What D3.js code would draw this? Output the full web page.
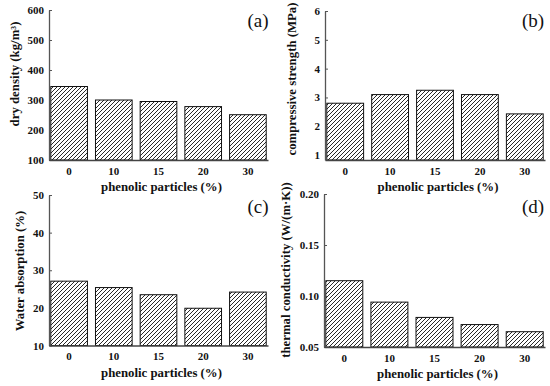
<!DOCTYPE html>
<html>
<head>
<meta charset="utf-8">
<script src="https://cdn.jsdelivr.net/npm/d3@7"></script>
<style>
  html, body { margin: 0; padding: 0; background: #fff; }
  svg { display: block; }
</style>
</head>
<body>
<svg id="chart" width="550" height="386"></svg>
<script>
const categories = ["0", "10", "15", "20", "30"];
const densityValues = [345, 300, 295, 278, 251];
const strengthValues = [2.8, 3.1, 3.25, 3.1, 2.43];
const absorptionValues = [27.1, 25.4, 23.5, 19.9, 24.2];
const conductivityValues = [0.115, 0.094, 0.079, 0.072, 0.065];

const densityTicks = [100, 200, 300, 400, 500, 600];
const strengthTicks = [1, 2, 3, 4, 5, 6];
const absorptionTicks = [10, 20, 30, 40, 50];
const conductivityTicks = [0.05, 0.10, 0.15, 0.20];

const xTitle = "phenolic particles (%)";

const svg = d3.select("#chart");
const FONT = "'Liberation Serif','Times New Roman',serif";

// hatch pattern
const defs = svg.append("defs");
const pat = defs.append("pattern")
  .attr("id", "hatch")
  .attr("patternUnits", "userSpaceOnUse")
  .attr("width", 4).attr("height", 4);
pat.append("path")
  .attr("d", "M-1,1 l2,-2 M0,4 l4,-4 M3,5 l2,-2")
  .attr("stroke", "#111").attr("stroke-width", 0.9);

const panels = [
  { values: densityValues, ticks: densityTicks, domain: [100, 600], fmt: d3.format("d"),
    x0: 49, x1: 268, yTop: 10, yBot: 160,
    yTitle: "dry density (kg/m³)", yTitleX: 15, yTitleY: 74, label: "(a)", labelX: 258, labelY: 27 },
  { values: strengthValues, ticks: strengthTicks, domain: [0.83, 6], fmt: d3.format("d"),
    x0: 325, x1: 545, yTop: 11, yBot: 160,
    yTitle: "compressive strength (MPa)", yTitleX: 292, yTitleY: 79, label: "(b)", labelX: 533, labelY: 27 },
  { values: absorptionValues, ticks: absorptionTicks, domain: [10, 50], fmt: d3.format("d"),
    x0: 49, x1: 268, yTop: 195, yBot: 345.5,
    yTitle: "Water absorption (%)", yTitleX: 20, yTitleY: 271, label: "(c)", labelX: 258, labelY: 213 },
  { values: conductivityValues, ticks: conductivityTicks, domain: [0.05, 0.20], fmt: d3.format(".2f"),
    x0: 324, x1: 545, yTop: 194, yBot: 347,
    yTitle: "thermal conductivity (W/(m·K))", yTitleX: 286, yTitleY: 270, label: "(d)", labelX: 533, labelY: 213 }
];

panels.forEach(p => {
  const g = svg.append("g");
  const x = d3.scaleBand().domain(categories).range([p.x0, p.x1]).paddingInner(0.18).paddingOuter(0.04);
  const y = d3.scaleLinear().domain(p.domain).range([p.yBot, p.yTop]);

  // bars
  g.selectAll("rect.bar").data(p.values).enter().append("rect")
    .attr("class", "bar")
    .attr("x", (d, i) => x(categories[i]))
    .attr("width", x.bandwidth())
    .attr("y", d => y(d))
    .attr("height", d => p.yBot - y(d))
    .attr("fill", "url(#hatch)")
    .attr("stroke", "#111")
    .attr("stroke-width", 1);

  // y axis
  const yAxis = d3.axisLeft(y).tickValues(p.ticks).tickFormat(p.fmt)
    .tickSizeInner(-3).tickSizeOuter(0).tickPadding(5);
  const ya = g.append("g").attr("transform", `translate(${p.x0},0)`).call(yAxis);
  ya.select(".domain").attr("stroke", "#555").attr("stroke-width", 1.3);
  ya.selectAll(".tick line").attr("stroke", "#555");
  ya.selectAll("text").attr("font-family", FONT).attr("font-weight", "bold")
    .attr("font-size", 11).attr("fill", "#111");

  // x axis
  const xAxis = d3.axisBottom(x).tickSize(0).tickPadding(7);
  const xa = g.append("g").attr("transform", `translate(0,${p.yBot})`).call(xAxis);
  xa.select(".domain").attr("stroke", "#444").attr("stroke-width", 1.3);
  xa.selectAll("text").attr("font-family", FONT).attr("font-weight", "bold")
    .attr("font-size", 11).attr("fill", "#111");

  // x title
  g.append("text")
    .attr("x", (p.x0 + p.x1) / 2 + 3)
    .attr("y", p.yBot + 31)
    .attr("text-anchor", "middle")
    .attr("font-family", FONT).attr("font-weight", "bold").attr("font-size", 12.8)
    .attr("fill", "#111")
    .text(xTitle);

  // y title
  g.append("text")
    .attr("transform", `translate(${p.yTitleX},${p.yTitleY}) rotate(-90)`)
    .attr("text-anchor", "middle")
    .attr("dominant-baseline", "central")
    .attr("font-family", FONT).attr("font-weight", "bold").attr("font-size", 12.8)
    .attr("fill", "#111")
    .text(p.yTitle);

  // panel label
  g.append("text")
    .attr("x", p.labelX).attr("y", p.labelY)
    .attr("text-anchor", "middle")
    .attr("font-family", FONT).attr("font-size", 19)
    .attr("fill", "#111")
    .text(p.label);
});
</script>
</body>
</html>
